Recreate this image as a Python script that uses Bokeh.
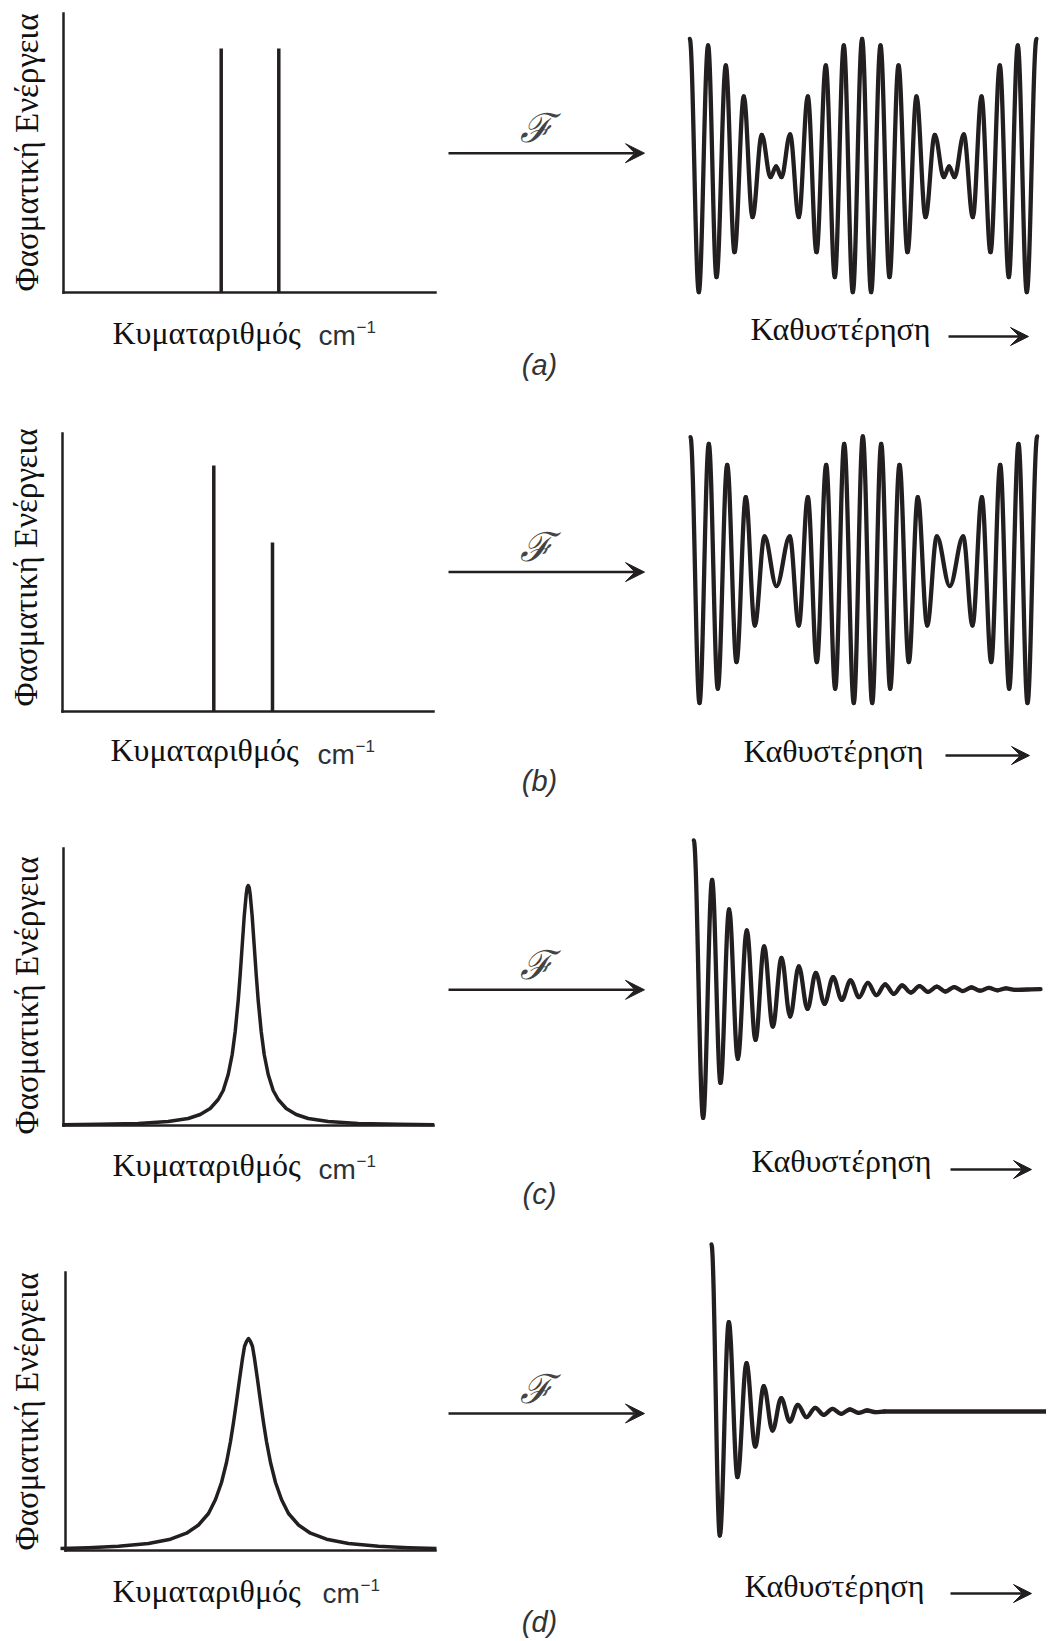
import math
from bokeh.plotting import figure
from bokeh.models import Range1d, Label, Arrow, VeeHead, FixedTicker
from bokeh.layouts import row, column
from bokeh.embed import file_html
from bokeh.resources import INLINE

INK = "#231f20"
SERIF = "Liberation Serif"
SANS = "Liberation Sans"

# ---------------- data ----------------
# spectra: wavenumber position (arb.) and spectral energy (arb.)
spec_a_pos = [157.7, 215.3]
spec_a_height = [244, 244]
spec_b_pos = [151.3, 210.0]
spec_b_height = [246, 169]

peak_c_center = 184.7
peak_c_offset = [0, 1, 2, 4, 6, 8, 10, 13, 16, 20, 25, 30, 38, 48, 60, 80, 110, 150, 186]
peak_c_height = [240, 238, 231, 209, 180, 151, 125, 94, 71, 51, 35, 26, 17, 11, 7, 4, 2.1, 1.2, 0.8]

peak_d_center = 183
peak_d_offset = [0, 2, 4, 6, 9, 12, 15, 18, 22, 27, 33, 40, 50, 62, 78, 100, 130, 160, 188]
peak_d_height = [212, 209, 204, 192, 171, 149, 128, 109, 88, 68, 51, 37, 25.5, 17.3, 11.3, 7, 4.2, 2.8, 2.1]

# interferograms: turning points (retardation, signal)
igram_a_x = [0, 9, 18.3, 26.7, 36, 44.7, 54, 62.7, 72, 80.7, 86.3, 91.7, 100.3, 109, 118, 126.7,
             136, 145, 154, 163, 172.3, 181.3, 190.7, 199.7, 208.7, 217.7, 226.7, 235.7, 245,
             254, 259.3, 264.7, 274, 283, 291.7, 300.7, 310, 319, 328, 337, 346.7]
igram_a_y = [126.7, -126.7, 120, -111.7, 100, -86.7, 69, -51.7, 30.7, -11.7, -1, -11.7, 31, -51.7,
             69, -86.7, 100, -111.7, 120, -126.7, 126.7, -126.7, 120, -111.7, 100, -86.7, 69,
             -51.7, 30.7, -11.7, -1, -11.7, 31, -51.7, 69, -86.7, 100, -111.7, 120, -126.7, 126.7]

igram_b_x = [0, 9, 18.3, 27.3, 36.7, 46, 55.3, 64.3, 74, 86, 99.3, 108.3, 117.3, 126.3, 135.7,
             144.7, 153.7, 163.3, 172.3, 181.7, 190.7, 199.7, 209, 218.3, 227.3, 236.7, 246.3,
             259.3, 272.7, 282, 291.3, 300.7, 309.7, 318.7, 328, 337, 346.7]
igram_b_y = [132.7, -133.3, 126, -119, 105, -92.3, 72.7, -55.7, 33.3, -16.3, 33.3, -55.7, 72.7,
             -92.3, 105, -119, 126, -133.3, 133.3, -133.3, 126, -119, 105, -92.3, 72.7, -55.7,
             33.3, -16.3, 33.3, -55.7, 72.7, -92.3, 105, -119, 126, -133.3, 133.3]

igram_c_x = [0, 9.3, 18.3, 26.7, 35.3, 44, 53, 61.7, 70.3, 79, 87.7, 96.3, 105, 113.7, 122,
             130.7, 139.3, 148, 156.7, 165.3, 174, 182.7, 191.3, 200, 208.3, 217, 225.7, 234.3,
             243, 251.7, 260.3, 269, 277.7, 286.3, 295, 303.7, 312.3, 321, 346.7]
igram_c_y = [148.7, -128.7, 109.3, -93.7, 79.7, -69.7, 58.7, -50.7, 42.7, -37.3, 31.3, -27.3,
             22.7, -19.7, 16.3, -14.7, 12, -10.7, 8.7, -8, 6.3, -6, 4.7, -4.7, 3.7, -3.3, 3,
             -2.7, 2.5, -2.3, 2.1, -1.9, 1.7, -1.5, 1.3, -1.1, 0.9, -0.6, 0]

igram_d_x = [0, 8.3, 17.3, 26, 35, 43.7, 52.3, 61, 69.7, 78.3, 86.3, 95, 103.7, 112.3, 121,
             129.7, 138.3, 147, 155.7, 164.3, 173, 345]
igram_d_y = [167, -124, 89.3, -65.7, 48.3, -35, 25.3, -19, 13.3, -10, 6.7, -5.7, 3.7, -3.3,
             2.7, -2.3, 2, -1.3, 1, -0.7, 0, 0]

y_title = "Φασματική Ενέργεια"
x_title = "Κυματαριθμός"
x_unit = "cm"
x_unit_exp = "−1"
delay_title = "Καθυστέρηση"
ft_symbol = "ℱ"
captions = ["(a)", "(b)", "(c)", "(d)"]

# ---------------- layout geometry (page pixels) ----------------
ROWS = [
    dict(top=0, bottom=405, frame=(63, 13, 435, 292), ylab=(26, 152), xlab=(112, 332), unit=(318, 335),
         arrow_y=152.7, cap_y=364, sx=689.3, my=165, dlab=(750, 328), darr=(948, 1028, 336)),
    dict(top=405, bottom=815, frame=(62, 433, 433, 711), ylab=(25, 567), xlab=(110, 749), unit=(317, 754),
         arrow_y=571.6, cap_y=780, sx=690, my=569.3, dlab=(743, 750), darr=(945, 1029, 755)),
    dict(top=815, bottom=1228, frame=(63, 848, 433, 1125), ylab=(26, 995), xlab=(112, 1164), unit=(318, 1169),
         arrow_y=989.3, cap_y=1193, sx=693.3, my=988.7, dlab=(751, 1160), darr=(950, 1031, 1169)),
    dict(top=1228, bottom=1638, frame=(65, 1272, 435, 1550), ylab=(26, 1411), xlab=(112, 1590), unit=(322, 1593),
         arrow_y=1413, cap_y=1621, sx=711, my=1411, dlab=(744, 1585), darr=(950, 1031, 1593)),
]
LEFT_X0, MID_X0, RIGHT_X0, RIGHT_X1 = 0, 445, 650, 1046


def base_figure(width, height, x_range, y_range):
    p = figure(width=width, height=height, min_border=0, x_range=x_range, y_range=y_range,
               toolbar_location=None, output_backend="svg")
    p.outline_line_color = None
    p.grid.grid_line_color = None
    p.background_fill_color = "white"
    p.border_fill_color = "white"
    return p


def left_figure(g, kind):
    fx0, fy0, fx1, fy1 = g["frame"]
    top, bottom = g["top"], g["bottom"]
    p = base_figure(MID_X0 - LEFT_X0, bottom - top,
                    Range1d(LEFT_X0 - fx0, MID_X0 - fx0), Range1d(fy1 - bottom, fy1 - top))
    # real axes, pinned at the data origin and limited to the plotted extent
    p.xaxis.fixed_location = 0
    p.xaxis.bounds = (0, fx1 - fx0)
    p.yaxis.fixed_location = 0
    p.yaxis.bounds = (0, fy1 - fy0)
    for ax in (p.xaxis, p.yaxis):
        ax.ticker = FixedTicker(ticks=[])
        ax.axis_line_color = INK
        ax.axis_line_width = 2.5
        ax.axis_line_cap = "square"
        ax.major_tick_line_color = None
        ax.minor_tick_line_color = None
        ax.major_tick_out = 0
        ax.major_tick_in = 0
        ax.major_label_text_font_size = "0px"

    if kind == "a":
        p.segment(x0=spec_a_pos, y0=[0, 0], x1=spec_a_pos, y1=spec_a_height, line_color=INK, line_width=3.5)
    elif kind == "b":
        p.segment(x0=spec_b_pos, y0=[0, 0], x1=spec_b_pos, y1=spec_b_height, line_color=INK, line_width=3.5)
    else:
        c, off, hh = (peak_c_center, peak_c_offset, peak_c_height) if kind == "c" else \
                     (peak_d_center, peak_d_offset, peak_d_height)
        xs = [c - d for d in reversed(off)] + [c + d for d in off[1:]]
        ys = list(reversed(hh)) + list(hh[1:])
        p.line(xs, ys, line_color=INK, line_width=3.5, line_join="round")

    def X(px):
        return px - fx0

    def Y(py):
        return fy1 - py

    p.add_layout(Label(x=X(g["ylab"][0]), y=Y(g["ylab"][1]), text=y_title, angle=math.pi / 2,
                       text_align="center", text_baseline="middle", text_font=SERIF,
                       text_font_size="33px", text_color="#111111"))
    p.add_layout(Label(x=X(g["xlab"][0]), y=Y(g["xlab"][1]), text=x_title,
                       text_align="left", text_baseline="alphabetic", text_font=SERIF,
                       text_font_size="32px", text_color="#111111"))
    p.add_layout(Label(x=X(g["unit"][0]), y=Y(g["unit"][1]), text=x_unit,
                       text_align="left", text_baseline="alphabetic", text_font=SANS,
                       text_font_size="28px", text_color="#2e3236"))
    p.add_layout(Label(x=X(g["unit"][0] + 38), y=Y(g["unit"][1] - 9), text=x_unit_exp,
                       text_align="left", text_baseline="alphabetic", text_font=SANS,
                       text_font_size="17px", text_color="#2e3236"))
    return p


def mid_figure(g, cap):
    p = base_figure(RIGHT_X0 - MID_X0, g["bottom"] - g["top"],
                    Range1d(MID_X0, RIGHT_X0), Range1d(g["bottom"], g["top"]))
    p.xaxis.visible = False
    p.yaxis.visible = False
    ay = g["arrow_y"]
    p.add_layout(Arrow(x_start=448, y_start=ay, x_end=644, y_end=ay, line_color=INK, line_width=2.5,
                       end=VeeHead(size=19, fill_color=INK, line_color=INK, line_width=1)))
    p.add_layout(Label(x=536, y=ay - 25, text=ft_symbol, text_align="center", text_baseline="middle",
                       text_font="DejaVu Serif", text_font_style="italic", text_font_size="40px",
                       text_color="#444444"))
    p.add_layout(Label(x=539, y=g["cap_y"], text=cap, text_align="center", text_baseline="middle",
                       text_font=SANS, text_font_style="italic", text_font_size="29px",
                       text_color="#333333"))
    return p


def right_figure(g, xs, ys):
    sx, my = g["sx"], g["my"]
    p = base_figure(RIGHT_X1 - RIGHT_X0, g["bottom"] - g["top"],
                    Range1d(RIGHT_X0 - sx, RIGHT_X1 - sx), Range1d(my - g["bottom"], my - g["top"]))
    p.xaxis.visible = False
    p.yaxis.visible = False
    k = 0.36
    x0, x1 = xs[:-1], xs[1:]
    y0, y1 = ys[:-1], ys[1:]
    cx0 = [a + k * (b - a) for a, b in zip(x0, x1)]
    cx1 = [b - k * (b - a) for a, b in zip(x0, x1)]
    p.bezier(x0=x0, y0=y0, x1=x1, y1=y1, cx0=cx0, cy0=y0, cx1=cx1, cy1=y1,
             line_color=INK, line_width=4.3, line_cap="round")
    lx, lb = g["dlab"]
    p.add_layout(Label(x=lx - sx, y=my - lb, text=delay_title, text_align="left",
                       text_baseline="alphabetic", text_font=SERIF, text_font_size="32px",
                       text_color="#111111"))
    ax0, ax1, ay = g["darr"]
    p.add_layout(Arrow(x_start=ax0 - sx, y_start=my - ay, x_end=ax1 - sx, y_end=my - ay,
                       line_color=INK, line_width=2.5,
                       end=VeeHead(size=18, fill_color=INK, line_color=INK, line_width=1)))
    return p


igrams = [(igram_a_x, igram_a_y), (igram_b_x, igram_b_y), (igram_c_x, igram_c_y), (igram_d_x, igram_d_y)]
rows = []
for i, (g, kind) in enumerate(zip(ROWS, "abcd")):
    rows.append(row(left_figure(g, kind), mid_figure(g, captions[i]),
                    right_figure(g, *igrams[i]), spacing=0))

layout = column(*rows, spacing=0)
open("out.html", "w").write(file_html(layout, INLINE))
